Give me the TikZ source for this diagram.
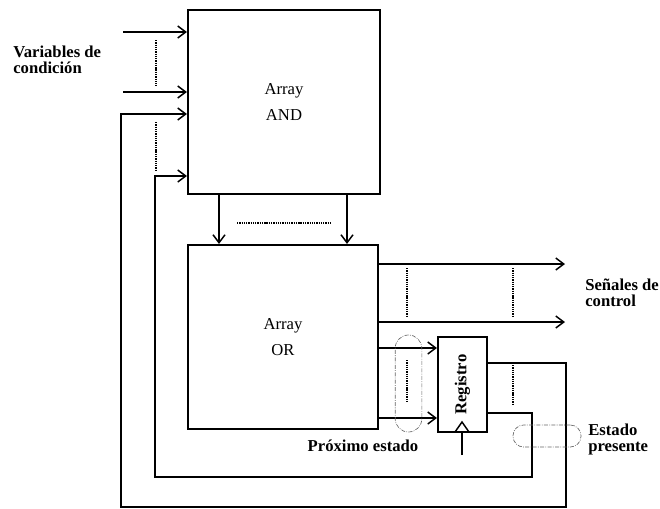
\documentclass[tikz,border=0pt]{standalone}
\usepackage{fontspec}
\setmainfont{Liberation Serif}
\usetikzlibrary{arrows.meta}
\begin{document}
\begin{tikzpicture}[
  x=0.75pt, y=-0.75pt,
  every node/.style={font=\fontsize{12.5}{13}\selectfont},
  block/.style={draw, line width=1.6pt, align=center, inner sep=0pt,
    font=\fontsize{12.5}{20}\selectfont},
  label/.style={font=\fontsize{12.5}{12}\selectfont\bfseries, align=left, anchor=west, inner sep=0pt},
  wire/.style={line width=1.1pt},
  arr/.style={wire, -{Straight Barb[length=6pt,width=9pt,line width=1.1pt]}},
  dots/.style={line width=1pt, dash pattern=on 1pt off 0.7pt},
  group/.style={draw=black!60, line width=0.5pt, rectangle,
    dash pattern=on 3pt off 1pt on 0.6pt off 1pt, inner sep=0pt}
]
\useasboundingbox (0,0) rectangle (660,508);
% arrays
\node[block, minimum width=144pt, minimum height=138pt] (andarr) at (284,102)
  {Array\\AND};
\node[block, minimum width=142.5pt, minimum height=138pt] (orarr) at (283,337)
  {Array\\OR};
\node[block, minimum width=36.75pt, minimum height=71.25pt] (reg) at (462.5,384.5)
  {\rotatebox{90}{\bfseries Registro}};
% inputs
\coordinate (v1) at (123,32);
\coordinate (v2) at (123,92);
\coordinate (f1) at (121,114);
\coordinate (f2) at (155,176);
\draw[arr] (v1) -- (v1 -| andarr.west);
\draw[arr] (v2) -- (v2 -| andarr.west);
\draw[dots] (156,40) -- (156,86);
\draw[dots] (156,122) -- (156,170);
\node[label] (vars) at (13,60) {Variables de\\condición};
% AND -> OR
\coordinate (t1) at (219,0);
\coordinate (t2) at (347,0);
\draw[arr] (andarr.south -| t1) -- (orarr.north -| t1);
\draw[arr] (andarr.south -| t2) -- (orarr.north -| t2);
\draw[dots] (237,223) -- (330,223);
% control outputs
\coordinate (c1) at (565,264);
\coordinate (c2) at (565,322);
\draw[arr] (c1 -| orarr.east) -- (c1);
\draw[arr] (c2 -| orarr.east) -- (c2);
\draw[dots] (407,268) -- (407,317);
\draw[dots] (513,268) -- (513,317);
\node[label] (ctrl) at (585,293) {Señales de\\control};
% next state into register
\coordinate (p1) at (378,348);
\coordinate (p2) at (378,418);
\draw[arr] (p1) -- (p1 -| reg.west);
\draw[arr] (p2) -- (p2 -| reg.west);
\draw[dots] (407,360) -- (407,403);
\node[group, rounded corners=10pt, minimum width=20pt, minimum height=72.75pt] (nextgrp) at (408.5,383.5) {};
\node[font=\fontsize{12.5}{12}\selectfont\bfseries] (next) at (363,446) {Próximo estado};
% clock
\coordinate (clk) at (462,455);
\draw[wire] (455,432) -- (462,422) -- (469,432);
\draw[wire] (clk) -- (clk |- reg.south);
% present state feedback
\coordinate (q1) at (487,363);
\coordinate (q2) at (487,413);
\draw[arr] (q1) -| (566,507) -| (f1) -- (f1 -| andarr.west);
\draw[arr] (q2) -| (532,477) -| (f2) -- (f2 -| andarr.west);
\draw[dots] (513,365) -- (513,405);
\node[group, rounded corners=8pt, minimum width=51pt, minimum height=16.5pt] (presgrp) at (547,436) {};
\node[label] (pres) at (588,439) {Estado\\presente};
\end{tikzpicture}
\end{document}
